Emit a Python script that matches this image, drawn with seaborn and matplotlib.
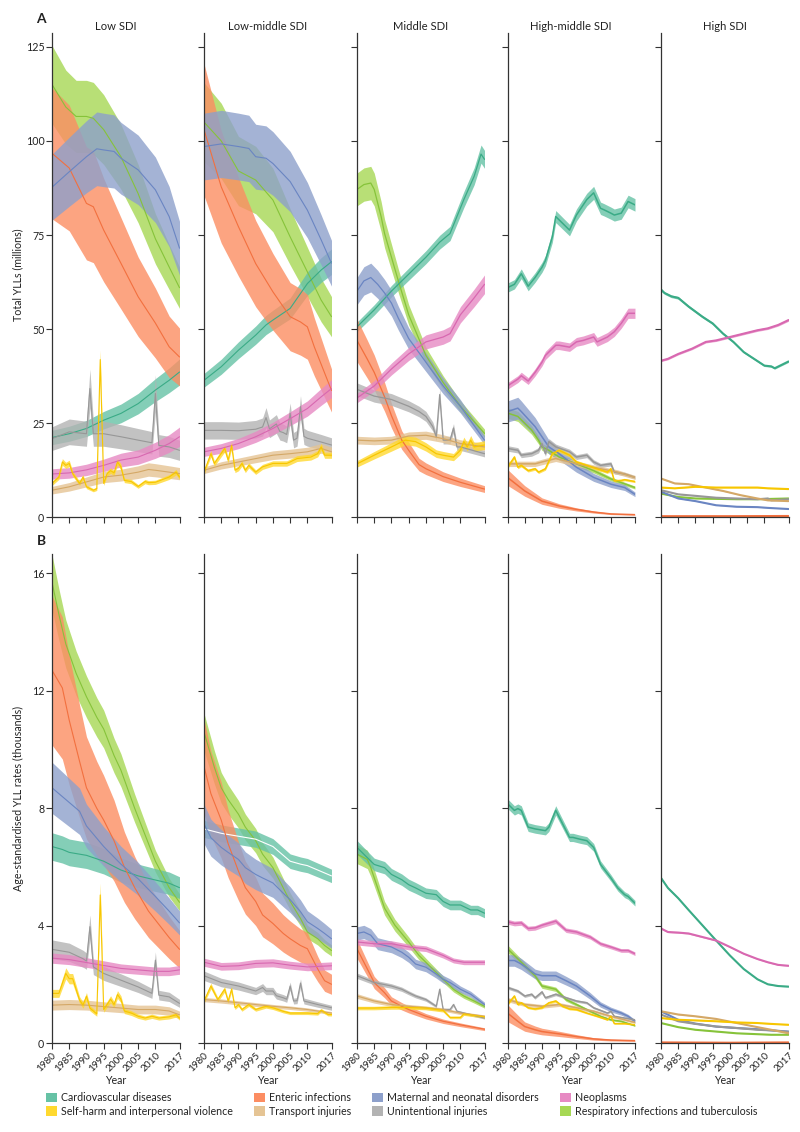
import matplotlib
matplotlib.use("Agg")
import matplotlib.pyplot as plt
from matplotlib.patches import Patch
from matplotlib import font_manager
import pandas as pd
import seaborn as sns

CVD = "Cardiovascular diseases"
ENT = "Enteric infections"
MAT = "Maternal and neonatal disorders"
NEO = "Neoplasms"
SHV = "Self-harm and interpersonal violence"
TRA = "Transport injuries"
UNI = "Unintentional injuries"
RES = "Respiratory infections and tuberculosis"

SDI_GROUPS = ["Low SDI", "Low-middle SDI", "Middle SDI", "High-middle SDI", "High SDI"]
YEAR_TICKS = [1980, 1985, 1990, 1995, 2000, 2005, 2010, 2017]
TOTAL_TICKS = [0, 25, 50, 75, 100, 125]
RATE_TICKS = [0, 4, 8, 12, 16]

# ---- panel A: total YLLs (millions), (year, mean)
TOTAL_LOW = {
  CVD: [(1980, 21.2), (1985, 22.2), (1990, 23.6), (1995, 25.8), (2000, 27.6), (2005, 30.2), (2010, 33.8), (2014, 36.4), (2017, 38.6)],
  ENT: [(1980, 96.7), (1985, 92.8), (1990, 83.4), (1992, 82.5), (1995, 76.3), (2000, 67.5), (2005, 58.6), (2010, 51.6), (2014, 45.3), (2017, 42.6)],
  MAT: [(1980, 87.7), (1985, 91.8), (1990, 95.8), (1993, 97.9), (1995, 97.6), (1998, 97.2), (2000, 95.4), (2005, 92.3), (2010, 87.0), (2014, 79.9), (2017, 71.5)],
  NEO: [(1980, 11.5), (1985, 11.8), (1990, 12.6), (1995, 13.8), (2000, 15.2), (2005, 16.0), (2010, 17.8), (2014, 19.6), (2017, 21.4)],
  SHV: [(1980, 9.0), (1982, 10.7), (1983, 14.7), (1984, 13.8), (1985, 14.3), (1986, 11.6), (1988, 9.0), (1989, 10.7), (1990, 8.1),
        (1992, 7.2), (1993, 7.6), (1994, 41.9), (1995, 9.0), (1996, 11.6), (1997, 12.4), (1998, 11.8), (1999, 14.7), (2000, 13.4),
        (2001, 9.8), (2003, 9.5), (2005, 8.2), (2007, 9.5), (2008, 9.2), (2010, 9.3), (2014, 10.7), (2016, 12.0), (2017, 10.7)],
  TRA: [(1980, 7.2), (1985, 8.1), (1990, 9.4), (1995, 10.7), (2000, 11.2), (2005, 12.0), (2008, 12.7), (2010, 12.5), (2014, 12.0), (2017, 11.6)],
  UNI: [(1980, 20.9), (1985, 22.7), (1990, 22.2), (1991, 34.2), (1992, 22.2), (1995, 22.2), (2000, 21.4), (2005, 20.5), (2009, 19.8),
        (2010, 32.9), (2011, 19.1), (2014, 18.7), (2017, 17.8)],
  RES: [(1980, 115.0), (1982, 112.0), (1984, 109.0), (1987, 106.5), (1990, 106.5), (1992, 106.0), (1995, 103.0), (2000, 95.8),
        (2005, 86.0), (2010, 74.0), (2014, 66.5), (2017, 61.0)],
}
TOTAL_LOWMID = {
  CVD: [(1980, 36.4), (1985, 40.0), (1990, 44.4), (1995, 48.4), (1998, 51.1), (2000, 52.4), (2005, 55.5), (2010, 62.1), (2014, 65.7), (2017, 67.9)],
  ENT: [(1980, 103.0), (1985, 87.8), (1990, 77.2), (1995, 67.4), (2000, 59.9), (2005, 53.3), (2008, 51.9), (2010, 50.6), (2012, 45.3), (2017, 33.7)],
  MAT: [(1980, 98.5), (1985, 99.2), (1990, 98.5), (1993, 98.0), (1995, 95.8), (1998, 95.4), (2000, 94.0), (2005, 89.2), (2010, 81.6), (2014, 73.7), (2017, 67.5)],
  NEO: [(1980, 17.4), (1985, 18.3), (1990, 19.6), (1995, 21.4), (2000, 23.6), (2005, 26.2), (2010, 28.9), (2014, 32.0), (2017, 34.2)],
  SHV: [(1980, 12.0), (1982, 16.9), (1983, 14.3), (1986, 18.3), (1987, 15.2), (1988, 19.1), (1989, 12.5), (1990, 13.0), (1991, 14.3),
        (1992, 12.5), (1993, 13.8), (1995, 12.0), (1997, 13.4), (2000, 14.3), (2004, 14.3), (2005, 14.7), (2007, 15.6), (2011, 16.0),
        (2013, 16.9), (2014, 18.7), (2015, 16.5), (2017, 16.5)],
  TRA: [(1980, 12.5), (1985, 13.8), (1990, 14.7), (1995, 15.6), (2000, 16.5), (2005, 16.9), (2010, 17.4), (2014, 18.3), (2017, 17.4)],
  UNI: [(1980, 23.1), (1985, 23.1), (1990, 23.0), (1995, 23.4), (1997, 24.0), (1998, 26.5), (1999, 23.5), (2001, 24.8), (2002, 22.8),
        (2003, 22.5), (2004, 22.0), (2005, 27.6), (2006, 20.5), (2007, 21.0), (2008, 29.4), (2009, 21.5), (2010, 21.0), (2014, 20.0), (2017, 19.2)],
  RES: [(1980, 105.0), (1985, 100.0), (1990, 92.0), (1995, 89.6), (2000, 84.3), (2005, 74.5), (2010, 65.2), (2014, 57.7), (2017, 53.3)],
}
TOTAL_MID = {
  CVD: [(1980, 50.6), (1985, 55.1), (1990, 60.1), (1995, 64.6), (2000, 69.1), (2004, 73.1), (2007, 75.4), (2011, 84.4), (2014, 90.6), (2016, 96.5), (2017, 95.1)],
  ENT: [(1980, 47.0), (1983, 42.0), (1985, 38.5), (1988, 32.0), (1990, 27.0), (1993, 20.5), (1995, 17.8), (1998, 14.0), (2000, 12.9), (2005, 10.8), (2010, 9.3), (2017, 7.5)],
  MAT: [(1980, 60.1), (1982, 62.8), (1984, 63.7), (1986, 61.9), (1988, 59.6), (1990, 56.9), (1992, 52.9), (1995, 47.5), (2000, 41.2), (2005, 34.9), (2010, 29.5), (2017, 20.5)],
  NEO: [(1980, 31.7), (1985, 34.9), (1990, 39.4), (1995, 43.4), (2000, 46.6), (2005, 47.9), (2007, 48.8), (2010, 53.8), (2014, 58.3), (2017, 61.9)],
  SHV: [(1980, 14.2), (1985, 16.5), (1990, 18.7), (1994, 20.5), (1997, 20.1), (2000, 18.7), (2003, 16.9), (2005, 16.5), (2008, 16.0),
        (2010, 17.8), (2011, 20.1), (2012, 18.7), (2013, 20.5), (2014, 18.7), (2017, 19.2)],
  TRA: [(1980, 20.5), (1985, 20.3), (1990, 20.5), (1995, 21.6), (2000, 21.8), (2005, 20.9), (2010, 19.6), (2017, 18.7)],
  UNI: [(1980, 34.0), (1985, 32.2), (1990, 31.3), (1995, 29.5), (1998, 28.1), (2000, 26.8), (2002, 24.1), (2003, 21.4), (2004, 32.6),
        (2005, 20.5), (2007, 20.5), (2008, 23.7), (2009, 18.7), (2010, 18.7), (2017, 16.9)],
  RES: [(1980, 87.1), (1982, 88.4), (1984, 88.8), (1985, 87.1), (1987, 79.9), (1988, 75.4), (1990, 69.1), (1992, 62.8), (1995, 53.8),
        (2000, 43.0), (2005, 35.8), (2010, 29.5), (2017, 22.3)],
}
TOTAL_HIGHMID = {
  CVD: [(1980, 61.0), (1982, 61.9), (1984, 64.7), (1986, 61.4), (1988, 63.7), (1990, 66.4), (1991, 68.2), (1993, 74.5), (1994, 79.9),
        (1995, 79.0), (1998, 76.3), (2000, 80.3), (2003, 84.4), (2005, 86.2), (2007, 82.1), (2008, 81.7), (2010, 80.8), (2011, 80.3),
        (2013, 80.8), (2015, 83.9), (2017, 83.0)],
  ENT: [(1980, 10.6), (1985, 7.0), (1990, 4.3), (1995, 3.0), (2000, 2.1), (2005, 1.4), (2010, 0.9), (2017, 0.7)],
  MAT: [(1980, 28.1), (1983, 29.0), (1984, 28.1), (1988, 24.1), (1990, 21.4), (1992, 18.7), (1995, 16.9), (2000, 13.3), (2005, 10.6),
        (2010, 8.8), (2014, 7.9), (2017, 6.1)],
  NEO: [(1980, 34.9), (1983, 36.7), (1984, 37.6), (1986, 36.2), (1988, 38.5), (1990, 41.2), (1991, 43.0), (1994, 45.7), (1995, 45.7),
        (1998, 45.2), (2000, 46.6), (2002, 47.0), (2005, 47.9), (2006, 46.6), (2009, 47.9), (2011, 49.3), (2013, 51.5), (2015, 54.2), (2017, 54.2)],
  SHV: [(1980, 13.3), (1982, 16.0), (1983, 13.3), (1984, 13.8), (1986, 12.4), (1988, 12.9), (1989, 12.0), (1991, 12.9), (1993, 16.9),
        (1995, 17.8), (1998, 16.5), (2000, 14.7), (2003, 13.8), (2006, 12.9), (2009, 12.0), (2010, 12.9), (2011, 9.7), (2013, 9.8),
        (2014, 10.0), (2017, 9.5)],
  TRA: [(1980, 14.2), (1988, 14.2), (1990, 14.7), (1994, 15.6), (1998, 14.7), (2002, 13.8), (2007, 12.9), (2012, 12.0), (2017, 10.6)],
  UNI: [(1980, 18.3), (1983, 17.8), (1984, 16.5), (1987, 16.9), (1989, 17.8), (1990, 19.6), (1991, 16.9), (1992, 20.1), (1994, 18.7),
        (1998, 17.4), (2000, 16.0), (2003, 16.5), (2005, 14.7), (2007, 13.8), (2010, 14.2), (2011, 12.0), (2014, 11.5), (2017, 10.6)],
  RES: [(1980, 27.7), (1983, 26.8), (1984, 25.9), (1987, 23.2), (1989, 20.5), (1990, 18.7), (1992, 17.8), (1995, 16.0), (2000, 14.2),
        (2005, 12.4), (2010, 10.2), (2017, 7.9)],
}
TOTAL_HIGH = {
  CVD: [(1980, 60.5), (1981, 59.6), (1983, 58.7), (1985, 58.3), (1988, 56.0), (1992, 53.3), (1995, 51.5), (1998, 48.8), (2001, 46.6),
        (2004, 43.9), (2007, 42.1), (2010, 40.3), (2012, 40.1), (2013, 39.6), (2015, 40.5), (2017, 41.4)],
  ENT: [(1980, 0.3), (2000, 0.3), (2017, 0.35)],
  MAT: [(1980, 6.8), (1985, 5.0), (1990, 4.3), (1996, 3.2), (2002, 2.8), (2008, 2.7), (2011, 2.5), (2017, 2.2)],
  NEO: [(1980, 41.6), (1982, 42.1), (1985, 43.4), (1989, 44.8), (1993, 46.6), (1996, 47.0), (2000, 47.9), (2004, 48.8), (2008, 49.7),
        (2011, 50.2), (2014, 51.1), (2017, 52.4)],
  SHV: [(1980, 7.9), (1984, 7.7), (1990, 8.1), (1996, 7.9), (2002, 7.9), (2008, 7.9), (2011, 7.7), (2017, 7.5)],
  TRA: [(1980, 10.3), (1984, 9.0), (1988, 8.8), (1993, 7.9), (1998, 7.0), (2003, 5.9), (2008, 5.0), (2011, 4.5), (2017, 4.3)],
  UNI: [(1980, 7.2), (1985, 6.1), (1990, 5.7), (1996, 5.2), (2002, 5.0), (2008, 4.8), (2011, 5.0), (2012, 4.5), (2017, 4.8)],
  RES: [(1980, 6.3), (1985, 5.4), (1990, 5.0), (1996, 4.9), (2002, 4.8), (2008, 4.8), (2017, 5.0)],
}

# ---- panel B: age-standardised YLL rates (thousands per 100 000)
RATE_LOW = {
  CVD: [(1980, 6.7), (1983, 6.6), (1985, 6.5), (1990, 6.4), (1995, 6.2), (2000, 5.9), (2005, 5.7), (2010, 5.56), (2014, 5.45), (2017, 5.3)],
  ENT: [(1980, 12.7), (1983, 12.1), (1985, 11.0), (1988, 9.6), (1990, 8.7), (1993, 8.0), (1995, 7.6), (1998, 6.9), (2001, 6.0),
        (2004, 5.3), (2008, 4.5), (2010, 4.2), (2014, 3.6), (2017, 3.2)],
  MAT: [(1980, 8.7), (1984, 8.3), (1988, 7.9), (1990, 7.4), (1995, 6.7), (2000, 6.1), (2005, 5.6), (2010, 5.0), (2014, 4.5), (2017, 4.1)],
  NEO: [(1980, 2.9), (1985, 2.85), (1990, 2.75), (1995, 2.65), (2000, 2.55), (2005, 2.5), (2010, 2.45), (2014, 2.45), (2017, 2.5)],
  SHV: [(1980, 1.7), (1982, 1.7), (1984, 2.38), (1985, 2.2), (1986, 2.2), (1988, 1.47), (1989, 1.3), (1990, 1.6), (1991, 1.2),
        (1993, 1.0), (1994, 5.05), (1995, 1.15), (1997, 1.5), (1998, 1.32), (1999, 1.66), (2000, 1.5), (2001, 1.1), (2003, 1.03),
        (2005, 0.92), (2007, 0.86), (2009, 0.92), (2011, 0.86), (2014, 0.9), (2016, 0.97), (2017, 0.86)],
  TRA: [(1980, 1.3), (1985, 1.32), (1990, 1.3), (1995, 1.25), (2000, 1.2), (2005, 1.15), (2010, 1.15), (2014, 1.1), (2017, 0.97)],
  UNI: [(1980, 3.2), (1985, 3.1), (1989, 2.88), (1990, 2.8), (1991, 3.97), (1992, 2.6), (1995, 2.38), (2000, 2.15), (2005, 1.92),
        (2009, 1.7), (2010, 2.83), (2011, 1.64), (2014, 1.58), (2017, 1.36)],
  RES: [(1980, 15.7), (1982, 14.6), (1984, 13.6), (1987, 12.6), (1990, 11.8), (1993, 11.1), (1995, 10.7), (1998, 9.8), (2000, 9.3),
        (2004, 8.0), (2006, 7.4), (2010, 6.2), (2014, 5.3), (2017, 4.8)],
}
RATE_LOWMID = {
  CVD: [(1980, 7.3), (1985, 7.15), (1990, 7.05), (1995, 6.95), (2000, 6.7), (2003, 6.4), (2005, 6.2), (2008, 6.1), (2010, 6.05),
        (2013, 5.9), (2015, 5.8), (2017, 5.7)],
  ENT: [(1980, 9.43), (1982, 8.5), (1985, 7.6), (1987, 6.8), (1990, 5.86), (1992, 5.3), (1995, 4.83), (1997, 4.37), (2000, 4.08),
        (2003, 3.74), (2005, 3.56), (2008, 3.33), (2010, 3.22), (2013, 2.53), (2015, 2.13), (2017, 2.01)],
  MAT: [(1980, 7.47), (1982, 7.0), (1985, 6.67), (1987, 6.5), (1990, 6.26), (1992, 5.98), (1995, 5.75), (1997, 5.63), (2000, 5.46),
        (2003, 5.11), (2005, 4.89), (2008, 4.48), (2010, 4.14), (2013, 3.91), (2015, 3.74), (2017, 3.56)],
  NEO: [(1980, 2.76), (1985, 2.62), (1990, 2.64), (1995, 2.72), (2000, 2.74), (2005, 2.66), (2010, 2.6), (2017, 2.64)],
  SHV: [(1980, 1.44), (1982, 1.95), (1984, 1.49), (1986, 1.84), (1987, 1.44), (1988, 1.84), (1989, 1.21), (1990, 1.32), (1991, 1.15),
        (1993, 1.32), (1995, 1.15), (1998, 1.26), (2000, 1.21), (2003, 1.09), (2005, 1.03), (2010, 1.03), (2013, 1.01), (2014, 1.13),
        (2016, 0.98), (2017, 0.98)],
  TRA: [(1980, 1.49), (1985, 1.44), (1990, 1.38), (1995, 1.32), (2000, 1.26), (2005, 1.21), (2010, 1.15), (2017, 1.03)],
  UNI: [(1980, 2.3), (1985, 2.07), (1990, 1.95), (1995, 1.78), (1997, 1.9), (1998, 1.78), (2000, 1.78), (2001, 1.62), (2003, 1.55),
        (2004, 1.5), (2005, 1.95), (2006, 1.44), (2007, 1.45), (2008, 2.05), (2009, 1.44), (2013, 1.32), (2017, 1.21)],
  RES: [(1980, 10.6), (1983, 9.4), (1985, 8.7), (1987, 8.3), (1990, 7.8), (1992, 7.36), (1995, 6.9), (1997, 6.44), (2000, 5.98),
        (2003, 5.29), (2005, 4.83), (2008, 4.25), (2010, 3.79), (2013, 3.56), (2015, 3.33), (2017, 3.16)],
}
RATE_MID = {
  CVD: [(1980, 6.67), (1983, 6.32), (1985, 6.09), (1988, 5.98), (1990, 5.75), (1993, 5.57), (1995, 5.4), (1997, 5.29), (2000, 5.11),
        (2003, 5.06), (2005, 4.83), (2007, 4.71), (2010, 4.71), (2013, 4.54), (2015, 4.54), (2017, 4.43)],
  ENT: [(1980, 3.22), (1983, 2.53), (1985, 2.07), (1988, 1.72), (1990, 1.44), (1993, 1.26), (1995, 1.15), (2000, 0.92), (2005, 0.75),
        (2010, 0.63), (2017, 0.48)],
  MAT: [(1980, 3.74), (1982, 3.79), (1984, 3.68), (1986, 3.39), (1990, 3.28), (1993, 3.10), (1995, 2.93), (1997, 2.70), (2000, 2.59),
        (2003, 2.36), (2005, 2.18), (2007, 2.07), (2010, 1.84), (2013, 1.67), (2017, 1.32)],
  NEO: [(1980, 3.45), (1985, 3.39), (1990, 3.39), (1995, 3.28), (2000, 3.22), (2005, 2.99), (2008, 2.82), (2011, 2.76), (2014, 2.76), (2017, 2.76)],
  SHV: [(1980, 1.2), (1985, 1.2), (1990, 1.22), (1995, 1.22), (2000, 1.2), (2005, 1.12), (2007, 0.88), (2010, 0.88), (2011, 1.0),
        (2014, 0.95), (2017, 0.9)],
  TRA: [(1980, 1.61), (1985, 1.44), (1990, 1.32), (1995, 1.26), (2000, 1.21), (2005, 1.15), (2010, 1.03), (2017, 0.92)],
  UNI: [(1980, 2.30), (1985, 2.07), (1990, 1.95), (1993, 1.84), (1995, 1.72), (1997, 1.61), (2000, 1.49), (2003, 1.26), (2004, 1.84),
        (2005, 1.15), (2007, 1.15), (2008, 1.32), (2009, 1.09), (2011, 1.03), (2017, 0.86)],
  RES: [(1980, 6.44), (1983, 6.26), (1984, 5.98), (1986, 5.29), (1988, 4.6), (1991, 4.02), (1995, 3.45), (1998, 2.99), (2001, 2.64),
        (2005, 2.18), (2008, 1.84), (2011, 1.61), (2014, 1.44), (2017, 1.26)],
}
RATE_HIGHMID = {
  CVD: [(1980, 8.16), (1982, 7.93), (1983, 7.99), (1984, 7.93), (1986, 7.36), (1988, 7.3), (1991, 7.24), (1992, 7.36), (1994, 7.93),
        (1995, 7.7), (1998, 7.01), (1999, 7.01), (2001, 6.95), (2003, 6.9), (2005, 6.67), (2007, 6.09), (2010, 5.63), (2012, 5.29),
        (2014, 5.06), (2015, 5.0), (2017, 4.77)],
  ENT: [(1980, 1.03), (1983, 0.75), (1985, 0.57), (1988, 0.46), (1990, 0.40), (1995, 0.32), (2000, 0.23), (2005, 0.15), (2010, 0.11), (2017, 0.09)],
  MAT: [(1980, 2.82), (1982, 2.82), (1984, 2.7), (1988, 2.36), (1990, 2.30), (1994, 2.30), (1997, 2.13), (2000, 1.95), (2004, 1.61),
        (2007, 1.32), (2010, 1.15), (2013, 1.03), (2015, 0.92), (2017, 0.75)],
  NEO: [(1980, 4.14), (1982, 4.08), (1984, 4.1), (1986, 3.91), (1988, 3.93), (1990, 4.02), (1994, 4.16), (1997, 3.85), (2000, 3.79),
        (2004, 3.62), (2007, 3.39), (2010, 3.28), (2013, 3.16), (2015, 3.16), (2017, 3.05)],
  SHV: [(1980, 1.32), (1982, 1.61), (1983, 1.32), (1984, 1.38), (1986, 1.21), (1988, 1.17), (1990, 1.21), (1992, 1.38), (1994, 1.44),
        (1996, 1.26), (1998, 1.17), (2000, 1.15), (2003, 1.03), (2006, 0.92), (2009, 0.80), (2010, 0.92), (2011, 0.67), (2014, 0.67), (2017, 0.63)],
  TRA: [(1980, 1.49), (1985, 1.32), (1990, 1.26), (1995, 1.32), (2000, 1.21), (2005, 1.09), (2010, 0.92), (2017, 0.71)],
  UNI: [(1980, 1.9), (1983, 1.78), (1985, 1.61), (1987, 1.67), (1988, 1.55), (1990, 1.75), (1991, 1.55), (1994, 1.67), (1997, 1.55),
        (2000, 1.44), (2003, 1.38), (2005, 1.21), (2009, 1.03), (2010, 1.09), (2011, 0.92), (2014, 0.86), (2017, 0.80)],
  RES: [(1980, 3.22), (1982, 2.99), (1984, 2.76), (1988, 2.3), (1990, 1.95), (1994, 1.84), (1997, 1.49), (2000, 1.32), (2004, 1.09),
        (2007, 0.92), (2010, 0.80), (2013, 0.75), (2017, 0.6)],
}
RATE_HIGH = {
  CVD: [(1980, 5.63), (1982, 5.29), (1985, 4.94), (1988, 4.54), (1992, 4.02), (1996, 3.5), (2000, 2.99), (2004, 2.53), (2008, 2.18),
        (2011, 2.01), (2014, 1.95), (2017, 1.93)],
  ENT: [(1980, 0.03), (2000, 0.02), (2017, 0.03)],
  MAT: [(1980, 1.09), (1985, 0.80), (1990, 0.67), (1996, 0.57), (2002, 0.52), (2008, 0.48), (2012, 0.44), (2017, 0.40)],
  NEO: [(1980, 3.91), (1982, 3.79), (1985, 3.77), (1988, 3.74), (1992, 3.62), (1996, 3.5), (2000, 3.28), (2004, 3.05), (2008, 2.87),
        (2011, 2.76), (2014, 2.67), (2017, 2.64)],
  SHV: [(1980, 0.86), (1985, 0.80), (1990, 0.78), (1996, 0.75), (2002, 0.71), (2008, 0.69), (2012, 0.66), (2017, 0.63)],
  TRA: [(1980, 1.09), (1985, 0.98), (1990, 0.92), (1996, 0.83), (2002, 0.69), (2008, 0.55), (2012, 0.46), (2017, 0.34)],
  UNI: [(1980, 0.98), (1985, 0.75), (1990, 0.66), (1996, 0.57), (2002, 0.52), (2008, 0.46), (2012, 0.44), (2017, 0.39)],
  RES: [(1980, 0.69), (1985, 0.55), (1990, 0.46), (1996, 0.40), (2002, 0.34), (2008, 0.31), (2012, 0.29), (2017, 0.29)],
}

# relative half-width of the uncertainty interval, per cause, per panel
UI_TOTAL = [
  {CVD: 0.09, ENT: 0.18, MAT: 0.10, NEO: 0.12, SHV: 0.06, TRA: 0.14, UNI: 0.15, RES: 0.09},
  {CVD: 0.05, ENT: 0.17, MAT: 0.09, NEO: 0.07, SHV: 0.05, TRA: 0.07, UNI: 0.10, RES: 0.10},
  {CVD: 0.025, ENT: 0.12, MAT: 0.06, NEO: 0.04, SHV: 0.06, TRA: 0.05, UNI: 0.05, RES: 0.05},
  {CVD: 0.02, ENT: 0.20, MAT: 0.10, NEO: 0.025, SHV: 0.03, TRA: 0.05, UNI: 0.04, RES: 0.05},
  {CVD: 0.006, ENT: 0.01, MAT: 0.01, NEO: 0.006, SHV: 0.01, TRA: 0.01, UNI: 0.01, RES: 0.01},
]
UI_RATE = [
  {CVD: 0.07, ENT: 0.20, MAT: 0.10, NEO: 0.06, SHV: 0.08, TRA: 0.13, UNI: 0.10, RES: 0.06},
  {CVD: 0.04, ENT: 0.17, MAT: 0.09, NEO: 0.05, SHV: 0.05, TRA: 0.05, UNI: 0.07, RES: 0.06},
  {CVD: 0.035, ENT: 0.10, MAT: 0.06, NEO: 0.03, SHV: 0.05, TRA: 0.05, UNI: 0.04, RES: 0.05},
  {CVD: 0.02, ENT: 0.28, MAT: 0.07, NEO: 0.02, SHV: 0.03, TRA: 0.05, UNI: 0.03, RES: 0.04},
  {CVD: 0.006, ENT: 0.01, MAT: 0.01, NEO: 0.006, SHV: 0.01, TRA: 0.01, UNI: 0.01, RES: 0.01},
]

TOTAL = [TOTAL_LOW, TOTAL_LOWMID, TOTAL_MID, TOTAL_HIGHMID, TOTAL_HIGH]
RATE = [RATE_LOW, RATE_LOWMID, RATE_MID, RATE_HIGHMID, RATE_HIGH]

FILL = {CVD: "#66c2a5", ENT: "#fc8d62", MAT: "#8da0cb", NEO: "#e78ac3",
        SHV: "#ffd92f", TRA: "#e5c494", UNI: "#b3b3b3", RES: "#a6d854"}
LINE = {CVD: "#3aab86", ENT: "#f2703f", MAT: "#6a85c2", NEO: "#d868b0",
        SHV: "#f7c600", TRA: "#d4a867", UNI: "#979797", RES: "#86c33a"}
DRAW_ORDER = [RES, CVD, ENT, MAT, UNI, NEO, TRA, SHV]
LEGEND_ORDER = [CVD, SHV, ENT, TRA, MAT, UNI, NEO, RES]

sns.set_theme(style="ticks")
names = {f.name for f in font_manager.fontManager.ttflist}
if "Liberation Sans Narrow" in names:
  fam, fs = "Liberation Sans Narrow", 1.0
else:
  fam, fs = "Lato", 0.9
plt.rcParams["font.family"] = [fam, "DejaVu Sans"]
plt.rcParams["text.color"] = "#222222"

W, H = 800, 1132
fig = plt.figure(figsize=(W / 100, H / 100), dpi=100)
lefts = [52, 204, 357, 507.5, 661]
pw = 127.5
rows = [
  dict(data=TOTAL, ui=UI_TOTAL, top=32.5, bottom=517.3, ymax=128.8, ticks=TOTAL_TICKS),
  dict(data=RATE, ui=UI_RATE, top=554, bottom=1043.3, ymax=16.66, ticks=RATE_TICKS),
]
line_w = [0.8, 0.8, 0.9, 1.1, 1.5]

for r, row in enumerate(rows):
  for c in range(5):
    ax = fig.add_axes([lefts[c] / W, 1 - row["bottom"] / H, pw / W, (row["bottom"] - row["top"]) / H])
    series = row["data"][c]
    ui = row["ui"][c]
    for cause in DRAW_ORDER:
      df = pd.DataFrame(series[cause], columns=["year", "value"])
      w = ui[cause]
      ax.fill_between(df["year"], df["value"] * (1 - w), df["value"] * (1 + w),
                      color=FILL[cause], alpha=0.8, lw=0)
      col = LINE[cause]
      if r == 1 and c == 1 and cause == CVD:
        col = "white"   # the original draws this one mean line in white
      sns.lineplot(data=df, x="year", y="value", color=col, lw=line_w[c],
                   estimator=None, ax=ax, legend=False)
    ax.set_xlim(1980, 2017)
    ax.set_ylim(0, row["ymax"])
    ax.set_xlabel("")
    ax.set_ylabel("")
    sns.despine(ax=ax)
    for s in ["left", "bottom"]:
      ax.spines[s].set_linewidth(0.9)
      ax.spines[s].set_color("#333333")
    ax.set_xticks(YEAR_TICKS)
    ax.set_yticks(row["ticks"])
    ax.tick_params(direction="out", length=4, width=0.8, color="#333333",
                   labelsize=8.5 * fs, labelcolor="#222222", pad=1.5)
    if c > 0:
      ax.set_yticklabels([])
    if r == 0:
      ax.set_xticklabels([])
      fig.text((lefts[c] + pw / 2) / W, 1 - 27 / H, SDI_GROUPS[c], ha="center", va="center", fontsize=9 * fs)
    else:
      ax.set_xticklabels([str(y) for y in YEAR_TICKS], rotation=45, ha="right",
                         rotation_mode="anchor", fontsize=8 * fs)
      fig.text((lefts[c] + pw / 2) / W, 1 - 1080 / H, "Year", ha="center", va="center", fontsize=8.5 * fs)

fig.text(41 / W, 1 - 19 / H, "A", fontsize=11 * fs, fontweight="bold", ha="center", va="center")
fig.text(41 / W, 1 - 541 / H, "B", fontsize=11 * fs, fontweight="bold", ha="center", va="center")
fig.text(18 / W, 1 - 275 / H, "Total YLLs (millions)", rotation=90, ha="center", va="center", fontsize=8.5 * fs)
fig.text(18 / W, 1 - 798 / H, "Age-standardised YLL rates (thousands)", rotation=90, ha="center", va="center", fontsize=8.5 * fs)

handles = [Patch(facecolor=FILL[k], edgecolor="none") for k in LEGEND_ORDER]
fig.legend(handles, LEGEND_ORDER, ncol=4, loc="upper left", bbox_to_anchor=(46 / W, 1 - 1092 / H),
           frameon=False, fontsize=8.5 * fs, handlelength=1.0, handleheight=1.0, handletextpad=0.4,
           columnspacing=2.0, labelspacing=0.25, borderaxespad=0, borderpad=0)

fig.savefig("out.png", dpi=100)
